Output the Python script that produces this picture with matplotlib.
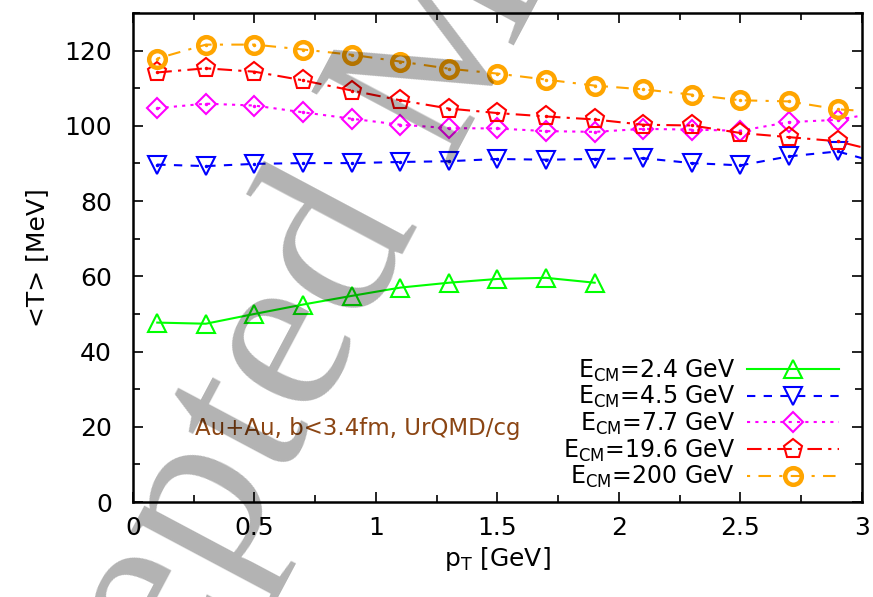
import numpy as np
import matplotlib
matplotlib.use("Agg")
import matplotlib.pyplot as plt

plt.rcParams['font.family'] = ['DejaVu Sans']
plt.rcParams['mathtext.default'] = 'regular'

# p_T bins [GeV]
pt = [0.1, 0.3, 0.5, 0.7, 0.9, 1.1, 1.3, 1.5, 1.7, 1.9, 2.1, 2.3, 2.5, 2.7, 2.9, 3.1]

# <T> [MeV] per collision energy
t_2p4 = [47.7, 47.4, 50.0, 52.5, 54.8, 57.0, 58.3, 59.3, 59.6, 58.3]
t_4p5 = [89.7, 89.3, 89.9, 90.1, 90.1, 90.4, 90.6, 91.2, 91.0, 91.2, 91.4, 90.1, 89.5, 91.9, 93.2, 89.6]
t_7p7 = [104.7, 105.9, 105.4, 103.6, 101.9, 100.3, 99.4, 99.3, 98.6, 98.4, 99.2, 99.0, 98.7, 101.0, 101.6, 103.9]
t_19p6 = [114.2, 115.3, 114.4, 112.1, 109.4, 106.8, 104.6, 103.4, 102.5, 101.7, 100.3, 100.1, 98.1, 97.0, 95.9, 92.7]
t_200 = [117.9, 121.6, 121.6, 120.3, 118.9, 117.1, 115.2, 113.9, 112.3, 110.7, 109.7, 108.3, 106.8, 106.5, 104.4, 103.6]

labels = ['E$_{CM}$=2.4 GeV', 'E$_{CM}$=4.5 GeV', 'E$_{CM}$=7.7 GeV',
          'E$_{CM}$=19.6 GeV', 'E$_{CM}$=200 GeV']

fig = plt.figure(figsize=(8.73, 5.97), dpi=100)
ax = fig.add_axes([0.1523, 0.1591, 0.8351, 0.8191])

series = [
    (t_2p4, '#00ff00', '-', '^', 13, 1.5, False),
    (t_4p5, '#0000ff', (0, (4, 4)), 'v', 13, 1.5, True),
    (t_7p7, '#ff00ff', (0, (1.5, 2.5)), 'D', 10, 1.5, True),
    (t_19p6, '#ff0000', (0, (7, 3, 1.5, 3)), 'p', 14, 1.5, True),
    (t_200, '#ffa500', (0, (1.5, 4, 6, 4)), 'o', 12, 3.2, True),
]

for (y, c, ls, m, ms, mew, dot), lab in zip(series, labels):
    x = pt[:len(y)]
    ax.plot(x, y, color=c, ls=ls, lw=1.5, marker=m, ms=ms, mew=mew,
            mfc='none', mec=c, label=lab)
    if dot:
        ax.plot(x, y, ls='none', marker='.', ms=3, color=c)

ax.set_xlim(0, 3)
ax.set_ylim(0, 130)
ax.set_xticks([0, 0.5, 1, 1.5, 2, 2.5, 3])
ax.set_xticklabels(['0', '0.5', '1', '1.5', '2', '2.5', '3'])
ax.set_yticks([0, 20, 40, 60, 80, 100, 120])
ax.set_xticks(np.arange(0, 3.01, 0.25), minor=True)
ax.set_yticks(np.arange(0, 131, 10), minor=True)
ax.tick_params(which='both', direction='in', top=True, right=True, width=1.2,
               labelsize=18)
ax.tick_params(axis='y', pad=15)
ax.tick_params(axis='x', pad=10)
ax.tick_params(which='major', length=7)
ax.tick_params(which='minor', length=5)
for s in ax.spines.values():
    s.set_linewidth(1.8)

ax.set_xlabel('p$_T$ [GeV]', fontsize=18, labelpad=4)
ax.set_ylabel('<T> [MeV]', fontsize=18, labelpad=11)

ax.text(0.255, 19.6, 'Au+Au, b<3.4fm, UrQMD/cg', color='#8b4513', fontsize=16.5,
        va='center')

ax.legend(loc='lower right', frameon=False, markerfirst=False, fontsize=17,
          handlelength=3.9, labelspacing=0.02, numpoints=1,
          borderaxespad=0.1, handletextpad=0.5, bbox_to_anchor=(0.985, 0.0))

# watermark
fig.text(-0.0073, -0.7146, 'Accepted Manuscript', fontsize=172.8, rotation=62,
         rotation_mode='anchor', ha='left', va='baseline', color='black',
         alpha=0.3, family='Liberation Serif', zorder=10)

fig.savefig('out.png', dpi=100)
